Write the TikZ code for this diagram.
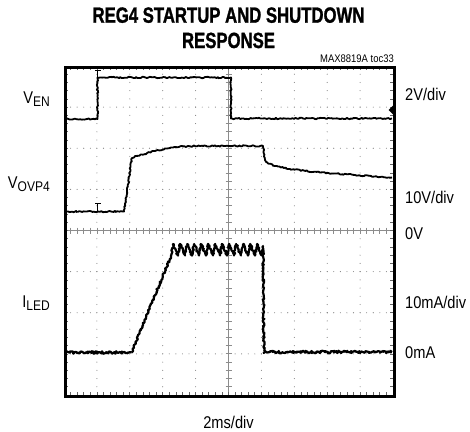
\documentclass[tikz,border=0pt]{standalone}
\usepackage{fontspec}
\setmainfont{Liberation Sans}
\newfontfamily\narrowfont[FakeStretch=0.86]{Liberation Sans}
\newfontfamily\titlefont[FakeStretch=0.76,FakeBold=1.2]{Liberation Sans}
\usetikzlibrary{decorations.pathmorphing}
\newcommand{\subtxt}[1]{\raisebox{-3pt}{\fontsize{14}{14}\selectfont #1}}
\begin{document}
\begin{tikzpicture}[x=1pt,y=-1pt,
  trace/.style={line width=1.8pt, line join=round, decorate,
    decoration={random steps, segment length=1.5pt, amplitude=0.7pt}},
  noisy/.style={line width=2.2pt, line join=round, decorate,
    decoration={random steps, segment length=1pt, amplitude=1.3pt}},
  griddot/.style={fill=black!50},
  axisline/.style={draw=black!45, line width=0.8pt},
  edgetick/.style={draw=black!60, line width=0.7pt},
  marker/.style={draw=black, line width=0.9pt},
  lbl/.style={font=\narrowfont\fontsize{17}{17}\selectfont, inner sep=0pt},
  ttl/.style={font=\titlefont\bfseries\fontsize{22}{22}\selectfont, inner sep=0pt, anchor=base},
  screen/.style={draw=black, line width=2.6pt, inner sep=0pt, minimum width=329pt, minimum height=329pt, anchor=north west}
]
\pgfmathsetseed{4321}
\useasboundingbox (0,0) rectangle (470,431);

% title
\node[ttl] (title1) at (228.5,22.7) {REG4 STARTUP AND SHUTDOWN};
\node[ttl] (title2) at (228.5,48) {RESPONSE};
\node[font=\narrowfont\fontsize{11}{11}\selectfont, inner sep=0pt, anchor=base east] (toc) at (394,62.5) {MAX8819A toc33};

% grid dots
\foreach \k in {1,2,3,5,6,7}
  \foreach \j in {1,...,49}
    \fill[griddot] ({64+\j*6.58},{66+\k*41.125}) circle (0.55pt);
\foreach \k in {1,2,3,4,6,7,8,9}
  \foreach \j in {1,...,39}
    \fill[griddot] ({64+\k*32.9},{66+\j*8.225}) circle (0.55pt);

% centre axes
\draw[axisline] (64,230.5) -- (393,230.5);
\foreach \j in {1,...,49}
  \draw[axisline] ({64+\j*6.58},227.5) -- ++(0,6);
\draw[axisline] (228.5,66) -- (228.5,395);
\foreach \j in {1,...,39}
  \draw[axisline] (225.5,{66+\j*8.225}) -- ++(6,0);

% edge ticks
\foreach \j in {1,...,49} {
  \draw[edgetick] ({64+\j*6.58},66) -- ++(0,3.5);
  \draw[edgetick] ({64+\j*6.58},395) -- ++(0,-3.5);
}
\foreach \j in {1,...,39} {
  \draw[edgetick] (64,{66+\j*8.225}) -- ++(3.5,0);
  \draw[edgetick] (393,{66+\j*8.225}) -- ++(-3.5,0);
}

% V_EN trace
\draw[trace] (65,119) -- (97.5,119) -- (97.5,77.5) -- (231,77.5) -- (231,118.5) -- (392,118.5);
% V_OVP4 trace
\draw[trace] (65,211.5) -- (124,211.5) -- (132,158) -- (140,155) -- (155,151) -- (170,148)
  -- (183,146.5) -- (200,146) -- (263,146) -- (265,160) -- (268,163.5) -- (275,166)
  -- (290,169) -- (320,172.5) -- (355,175) -- (392,177.5);
% I_LED trace
\draw[noisy] (65,352.5) -- (131.5,352.5);
\draw[trace, line width=2.2pt, decoration={random steps, segment length=1.2pt, amplitude=0.9pt}]
  (131.5,352.5) -- (171,256)
  \foreach \i in {0,...,12} { -- ({173.2+7*\i},244) -- ({178+7*\i},255.5) }
  -- (263,246) -- (264,351.5);
\draw[noisy] (264,352) -- (392,352);

% markers
\draw[marker] (95,70) -- (100.5,70) (97.7,70) -- (97.7,77);
\draw[marker] (95,203.5) -- (100.5,203.5) (97.7,203.5) -- (97.7,211);
\fill (393,105.5) -- (388.5,110) -- (393,114.5) -- cycle;

% frame
\node[screen] (scr) at (64,66) {};

% left labels
\node[lbl, anchor=base east] (ven) at (50,103) {V\subtxt{EN}};
\node[lbl, anchor=base east] (vovp) at (50,188) {V\subtxt{OVP4}};
\node[lbl, anchor=base east] (iled) at (50,307) {I\subtxt{LED}};

% right labels
\node[lbl, anchor=base west] (s1) at (405,100) {2V/div};
\node[lbl, anchor=base west] (s2) at (405,203) {10V/div};
\node[lbl, anchor=base west] (z1) at (405,239) {0V};
\node[lbl, anchor=base west] (s3) at (405,308) {10mA/div};
\node[lbl, anchor=base west] (z2) at (405,358) {0mA};

% time base
\node[lbl, anchor=base] (tb) at (228.5,428) {2ms/div};
\end{tikzpicture}
\end{document}
